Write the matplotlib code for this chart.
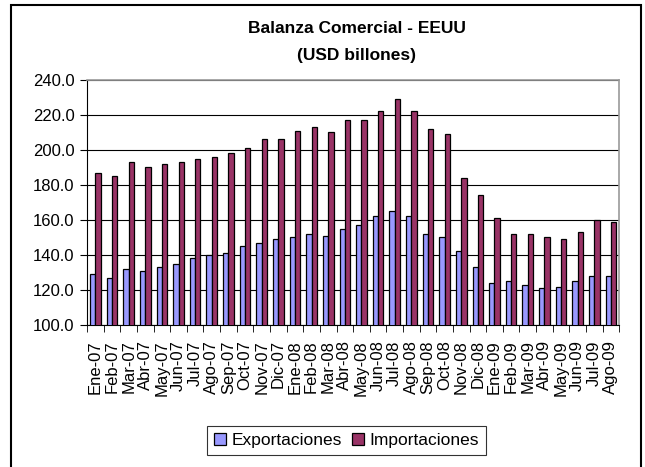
import numpy as np
import matplotlib.pyplot as plt
from matplotlib.patches import Rectangle

plt.rcParams['font.family'] = ['Liberation Sans', 'DejaVu Sans']

# datos (USD billones)
meses = ['Ene-07', 'Feb-07', 'Mar-07', 'Abr-07', 'May-07', 'Jun-07', 'Jul-07', 'Ago-07',
         'Sep-07', 'Oct-07', 'Nov-07', 'Dic-07', 'Ene-08', 'Feb-08', 'Mar-08', 'Abr-08',
         'May-08', 'Jun-08', 'Jul-08', 'Ago-08', 'Sep-08', 'Oct-08', 'Nov-08', 'Dic-08',
         'Ene-09', 'Feb-09', 'Mar-09', 'Abr-09', 'May-09', 'Jun-09', 'Jul-09', 'Ago-09']
exportaciones = [129, 127, 132, 131, 133, 135, 138, 140, 141, 145, 147, 149, 150, 152, 151, 155,
                 157, 162, 165, 162, 152, 150, 142, 133, 124, 125, 123, 121, 122, 125, 128, 128]
importaciones = [187, 185, 193, 190, 192, 193, 195, 196, 198, 201, 206, 206, 211, 213, 210, 217,
                 217, 222, 229, 222, 212, 209, 184, 174, 161, 152, 152, 150, 149, 153, 160, 159]

x = np.arange(len(meses))
w = 0.32

fig = plt.figure(figsize=(6.45, 4.67), dpi=100)
ax = fig.add_axes([0.135, 0.304, 0.825, 0.525])

ax.bar(x - w / 2, exportaciones, w, color='#9999FF', edgecolor='black', linewidth=0.9,
       label='Exportaciones', zorder=3)
ax.bar(x + w / 2, importaciones, w, color='#993366', edgecolor='black', linewidth=0.9,
       label='Importaciones', zorder=3)

ax.set_ylim(100, 240)
ax.set_yticks(np.arange(100, 241, 20))
ax.set_yticklabels(['%.1f' % v for v in np.arange(100, 241, 20)], fontsize=12)
ax.set_xlim(-0.5, len(meses) - 0.5)
ax.set_xticks(x)
ax.set_xticklabels(meses, rotation=90, fontsize=12)
ax.set_xticks(np.arange(-0.5, len(meses), 1), minor=True)
ax.tick_params(axis='x', which='major', length=0, pad=11)
ax.tick_params(axis='x', which='minor', length=5, direction='out')
ax.tick_params(axis='y', length=5, direction='out', pad=4)
ax.grid(axis='y', color='black', linewidth=0.8, zorder=0)

for s in ['top', 'right']:
    ax.spines[s].set_color('#999999')
    ax.spines[s].set_linewidth(1.2)
ax.spines['left'].set_color('black')
ax.spines['bottom'].set_color('black')

fig.text(0.553, 0.940, 'Balanza Comercial - EEUU', ha='center', va='center',
         fontsize=12.5, fontweight='bold')
fig.text(0.553, 0.882, '(USD billones)', ha='center', va='center',
         fontsize=12.5, fontweight='bold')

leg = fig.legend(loc='center', bbox_to_anchor=(0.537, 0.056), ncol=2, fontsize=12.5,
                 frameon=True, fancybox=False, edgecolor='black', handlelength=0.7,
                 handleheight=0.7, handletextpad=0.3, columnspacing=0.6, borderpad=0.4)
leg.get_frame().set_linewidth(0.8)

# marco exterior
fig.patches.append(Rectangle((0.017, -0.01), 0.977, 0.999, transform=fig.transFigure,
                             fill=False, edgecolor='black', linewidth=1.5))

fig.savefig('out.png', dpi=100)
